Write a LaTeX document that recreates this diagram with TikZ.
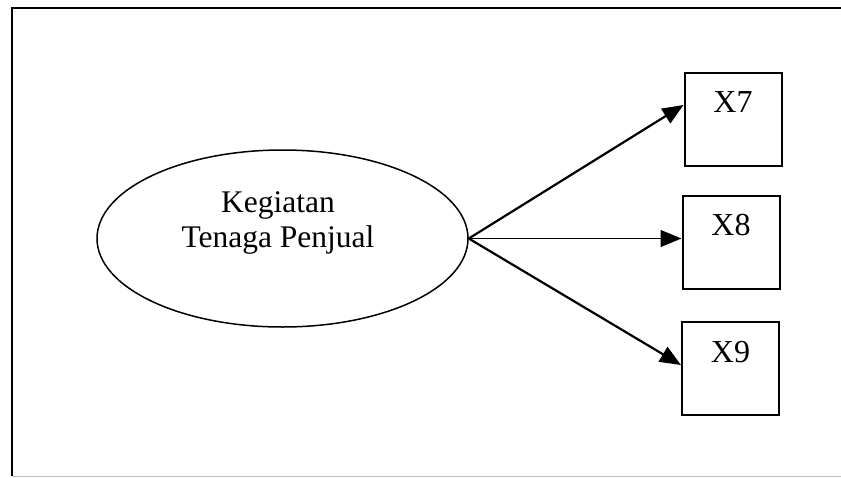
\documentclass[tikz,border=0pt]{standalone}
\usepackage{fontspec}
\setmainfont{Liberation Serif}
\usetikzlibrary{shapes.geometric,arrows.meta}
\tikzset{
  latent/.style={ellipse,draw,line width=1.5pt,inner sep=0pt,
    minimum width=371pt,minimum height=177pt},
  indicator/.style={rectangle,draw,line width=2pt,inner sep=0pt,
    minimum width=97pt,minimum height=93pt,
    font=\fontsize{32}{36}\selectfont,text height=21pt,text depth=34pt},
  path/.style={line width=2.2pt,-{Triangle[length=21pt,width=17pt]}},
  thinpath/.style={line width=1.3pt,-{Triangle[length=21pt,width=17pt]}},
  frameline/.style={line width=2pt}
}
\begin{document}
\begin{tikzpicture}[x=1pt,y=-1pt]
  \useasboundingbox (0,0) rectangle (841,477);
  % outer frame (top and left edges heavy, bottom edge faint)
  \coordinate (ftl) at (12,8);
  \coordinate (ftr) at (845,8);
  \coordinate (fbl) at (12,476);
  \coordinate (fbr) at (845,476);
  \draw[frameline] (ftr) -- (ftl) -- (fbl);
  \draw[line width=1pt,black!25] (fbl) -- (fbr);

  % latent construct
  \node[latent] (lv) at (282.5,238.5) {};
  \node[font=\fontsize{31.5}{35}\selectfont,align=center,inner sep=0pt]
    (lvtext) at (278,223) {Kegiatan\\Tenaga Penjual};

  % indicators
  \node[indicator] (x7) at (733,119) {X7};
  \node[indicator] (x8) at (731,242) {X8};
  \node[indicator] (x9) at (730.5,368.5) {X9};

  % loadings
  \draw[path] (lv.east) -- ([yshift=14pt]x7.west);
  \draw[thinpath] (lv.east) -- ([yshift=3.5pt]x8.west);
  \draw[path] (lv.east) -- ([yshift=3.5pt]x9.west);
\end{tikzpicture}
\end{document}
